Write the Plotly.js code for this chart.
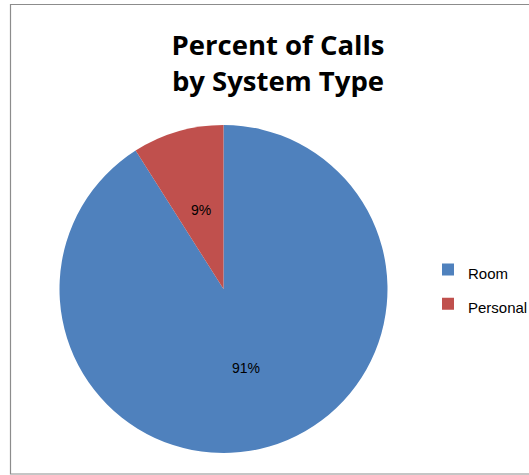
<!DOCTYPE html>
<html><head><meta charset="utf-8">
<script src="https://cdn.plot.ly/plotly-3.0.1.min.js"></script>
<style>html,body{margin:0;padding:0;background:#fff;}#c{width:529px;height:475px;}</style>
</head><body><div id="c"></div>
<script>
const categories = ["Room", "Personal"];
const percentValues = [91, 9];
const sliceColors = ["#4F81BD", "#C0504D"];
const chartTitle = "Percent of Calls<br>by System Type";

const W = 529, H = 475;
// pie geometry (pixels)
const cx = 223.5, cy = 289, R = 164;

const legendLabels = categories.map(c => '<span style="font-size:15px">' + c + '</span>');

const trace = {
  type: "pie",
  labels: legendLabels,
  values: percentValues,
  sort: false,
  direction: "clockwise",
  rotation: 0,
  marker: {colors: sliceColors, line: {width: 0}},
  textinfo: "none",
  hoverinfo: "label+percent",
  domain: {x: [(cx - R) / W, (cx + R) / W], y: [1 - (cy + R) / H, 1 - (cy - R) / H]}
};

// percent labels at half radius along each slice bisector (computed from the data)
const total = percentValues.reduce((a, b) => a + b, 0);
let acc = 0;
const annotations = percentValues.map(v => {
  const mid = (acc + v / 2) / total * 2 * Math.PI; acc += v;
  const x = cx + 0.5 * R * Math.sin(mid), y = cy - 0.5 * R * Math.cos(mid);
  return {
    xref: "paper", yref: "paper", x: x / W, y: 1 - y / H,
    xanchor: "center", yanchor: "middle", showarrow: false,
    text: Math.round(v / total * 100) + "%",
    font: {family: "'Liberation Sans', Arial, sans-serif", size: 14, color: "#000"}
  };
});

const layout = {
  width: W, height: H,
  margin: {l: 0, r: 0, t: 0, b: 0, autoexpand: false},
  paper_bgcolor: "#fff",
  showlegend: true,
  title: {
    text: chartTitle,
    x: 278 / W, xanchor: "center",
    y: 1 - 55 / H, yanchor: "top",
    font: {family: "'Open Sans', 'Noto Sans', sans-serif", size: 27.5, color: "#000", weight: "bold"}
  },
  legend: {
    x: 428 / W, xanchor: "left",
    y: 1 - 287 / H, yanchor: "middle",
    font: {family: "'Liberation Sans', Arial, sans-serif", size: 24, color: "#000"},
    itemwidth: 30,
    bgcolor: "rgba(0,0,0,0)"
  },
  annotations: annotations,
  shapes: [{
    type: "rect", xref: "paper", yref: "paper",
    x0: 10.5 / W, x1: 1.01, y0: 1 - 474 / H, y1: 1 - 4.5 / H,
    line: {color: "#8c8c8c", width: 1.2}, fillcolor: "rgba(0,0,0,0)"
  }]
};
Plotly.newPlot("c", [trace], layout, {staticPlot: true, displayModeBar: false});
</script></body></html>
